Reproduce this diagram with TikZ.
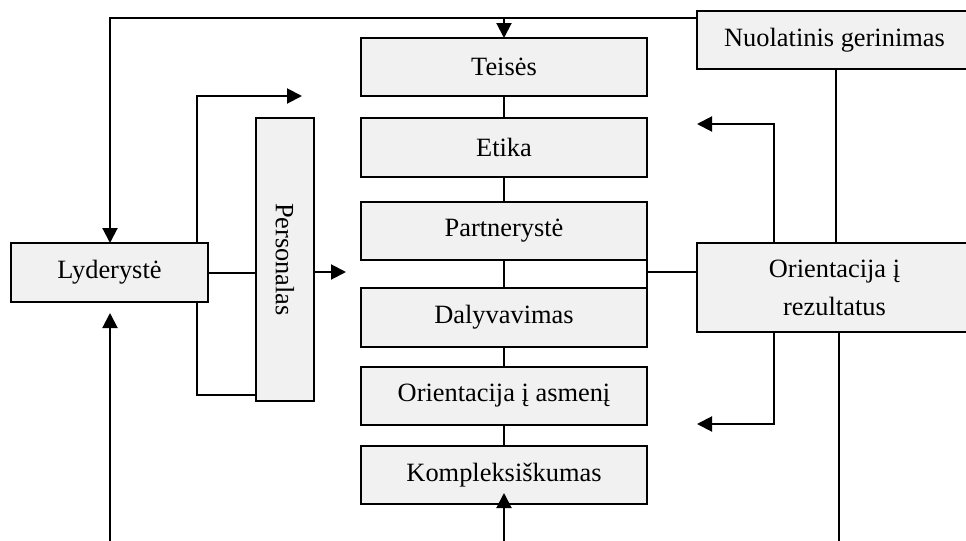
\documentclass[tikz,border=0pt]{standalone}
\usepackage{fontspec}
\setmainfont{Liberation Serif}
\usetikzlibrary{arrows.meta,calc}
\definecolor{boxfill}{RGB}{241,241,241}
\tikzset{
  box/.style={draw=black, fill=boxfill, line width=1pt, inner sep=0pt, outer sep=0pt,
    font=\fontsize{13.2pt}{17pt}\selectfont, align=center},
  conn/.style={line width=1pt},
  arr/.style={line width=1pt, -{Triangle[length=7.5pt,width=7.5pt]}}
}
\begin{document}
\begin{tikzpicture}[x=0.5pt,y=-0.5pt]
\useasboundingbox (0,0) rectangle (966,541);
% central column
\node[box, minimum width=143pt, minimum height=29pt] (teises) at (504,67) {Teisės};
\node[box, minimum width=143pt, minimum height=29.5pt] (etika) at (504,147.5) {Etika};
\node[box, minimum width=143pt, minimum height=29pt] (partner) at (504,231) {Partnerystė};
\node[box, minimum width=143pt, minimum height=29.5pt] (daly) at (504,317.5) {Dalyvavimas};
\node[box, minimum width=143pt, minimum height=29pt] (asmen) at (504,396) {Orientacija į asmenį};
\node[box, minimum width=143pt, minimum height=29pt] (kompl) at (504,475) {Kompleksiškumas};
% left
\node[box, minimum width=98.5pt, minimum height=29.5pt] (lyd) at (109.5,272.5) {Lyderystė};
\node[box, minimum width=29pt, minimum height=141.5pt] (pers) at (285,259.5) {};
\node[font=\fontsize{13.2pt}{17pt}\selectfont, rotate=-90] (perslbl) at (285,259.5) {Personalas};
% right
\node[box, minimum width=137.5pt, minimum height=29pt] (nuol) at (834.5,40) {Nuolatinis gerinimas};
\node[box, minimum width=137.5pt, minimum height=44.5pt] (orient) at (834.5,287.5) {Orientacija į\\[2pt]rezultatus};

% coordinates
\coordinate (topL) at (110,18);
\coordinate (upT) at (302,96);
\coordinate (midT) at (346,272);
\coordinate (lbS) at (110,545);
\coordinate (lbE) at (110,313);
\coordinate (kS) at (504,545);
\coordinate (kE) at (504,493);
\coordinate (pd) at (647,272);
\coordinate (rUp) at (697,124);
\coordinate (rDn) at (697,424);
\coordinate (rB) at (839,545);

% top loop
\draw[arr] (nuol.west |- topL) -- (topL) -- (topL |- lyd.north);
\draw[arr] (teises.north |- topL) -- (teises.north);

% spine
\draw[conn] (teises.south) -- (etika.north);
\draw[conn] (etika.south) -- (partner.north);
\draw[conn] (partner.south) -- (daly.north);
\draw[conn] (daly.south) -- (asmen.north);
\draw[conn] (asmen.south) -- (kompl.north);
\draw[arr] (kS) -- (kE);

% left side
\draw[arr] ([xshift=-5.5pt]lyd.north east) |- (upT);
\draw[conn] ([xshift=-5.5pt]lyd.south east) |- ([yshift=3pt]pers.south west);
\draw[conn] (lyd.east) -- (lyd.east -| pers.west);
\draw[arr] (pers.east |- midT) -- (midT);
\draw[arr] (lbS) -- (lbE);

% right side
\draw[conn] (partner.south east) -- (daly.north east);
\draw[conn] (pd) -- (pd -| orient.west);
\draw[conn] ([xshift=0.75pt]nuol.south) -- ([xshift=0.75pt]orient.north);
\draw[arr] ([xshift=-30.25pt]orient.north) |- (rUp);
\draw[arr] ([xshift=-30.25pt]orient.south) |- (rDn);
\draw[conn] (orient.south -| rB) -- (rB);
\end{tikzpicture}
\end{document}
